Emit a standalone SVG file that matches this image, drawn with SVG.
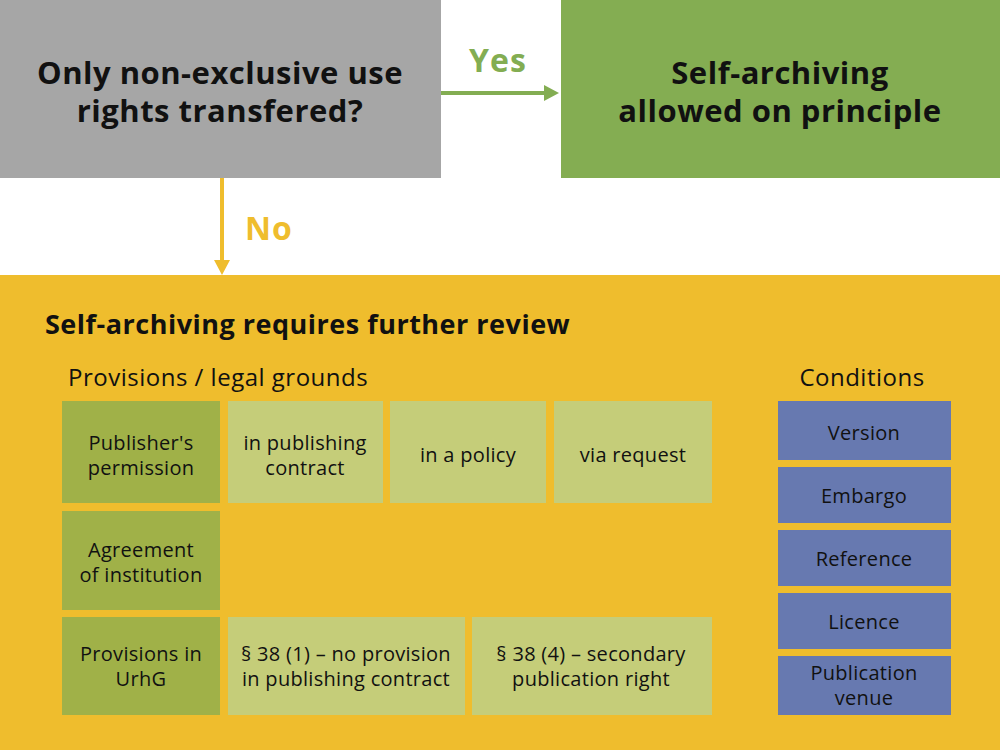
<svg xmlns="http://www.w3.org/2000/svg" width="1000" height="750" viewBox="0 0 1000 750">
<defs>
<style>
text{font-family:"Open Sans","Liberation Sans",sans-serif;fill:#111;}
.h{font-size:31px;font-weight:700;text-anchor:middle;letter-spacing:0.5px;}
.lbl{font-size:20px;text-anchor:middle;letter-spacing:0.3px;}
.dark{fill:#a0b148;}
.light{fill:#c5cd79;}
.cond{fill:#6779b0;}
</style>
</defs>
<rect width="1000" height="750" fill="#fff"/>
<g id="question">
<rect x="0" y="0" width="441" height="178" fill="#a6a6a6"/>
<text class="h" x="220" y="84">Only non-exclusive use</text>
<text class="h" x="220" y="122">rights transfered?</text>
</g>
<g id="allowed">
<rect x="561" y="0" width="439" height="178" fill="#84ad52"/>
<text class="h" x="780" y="84">Self-archiving</text>
<text class="h" x="780" y="122">allowed on principle</text>
</g>
<g id="review">
<rect x="0" y="275" width="1000" height="475" fill="#efbd2d"/>
<text x="45" y="334" style="font-size:27px;font-weight:700;letter-spacing:0.5px">Self-archiving requires further review</text>
<text x="68" y="386" style="font-size:24px;letter-spacing:0.5px">Provisions / legal grounds</text>
<text x="862" y="386" style="font-size:24px;letter-spacing:0.5px;text-anchor:middle">Conditions</text>
</g>
<g id="publisher-permission"><rect class="dark" x="62" y="401" width="158" height="102"/><text class="lbl" x="141" y="450">Publisher's</text><text class="lbl" x="141" y="475">permission</text></g>
<g id="in-contract"><rect class="light" x="228" y="401" width="155" height="102"/><text class="lbl" x="305" y="450">in publishing</text><text class="lbl" x="305" y="475">contract</text></g>
<g id="in-policy"><rect class="light" x="390" y="401" width="156" height="102"/><text class="lbl" x="468" y="462">in a policy</text></g>
<g id="via-request"><rect class="light" x="554" y="401" width="158" height="102"/><text class="lbl" x="633" y="462">via request</text></g>
<g id="agreement"><rect class="dark" x="62" y="511" width="158" height="99"/><text class="lbl" x="141" y="557">Agreement</text><text class="lbl" x="141" y="582">of institution</text></g>
<g id="urhg"><rect class="dark" x="62" y="617" width="158" height="98"/><text class="lbl" x="141" y="661">Provisions in</text><text class="lbl" x="141" y="686">UrhG</text></g>
<g id="s38-1"><rect class="light" x="228" y="617" width="237" height="98"/><text class="lbl" x="346" y="661">§ 38 (1) – no provision</text><text class="lbl" x="346" y="686">in publishing contract</text></g>
<g id="s38-4"><rect class="light" x="472" y="617" width="240" height="98"/><text class="lbl" x="591" y="661">§ 38 (4) – secondary</text><text class="lbl" x="591" y="686">publication right</text></g>
<g id="version"><rect class="cond" x="778" y="401" width="173" height="59"/><text class="lbl" x="864" y="440">Version</text></g>
<g id="embargo"><rect class="cond" x="778" y="467" width="173" height="56"/><text class="lbl" x="864" y="503">Embargo</text></g>
<g id="reference"><rect class="cond" x="778" y="530" width="173" height="56"/><text class="lbl" x="864" y="566">Reference</text></g>
<g id="licence"><rect class="cond" x="778" y="593" width="173" height="56"/><text class="lbl" x="864" y="629">Licence</text></g>
<g id="venue"><rect class="cond" x="778" y="656" width="173" height="59"/><text class="lbl" x="864" y="680">Publication</text><text class="lbl" x="864" y="705">venue</text></g>
<g id="connectors">
<line x1="441" y1="93" x2="546" y2="93" stroke="#83ad52" stroke-width="4"/>
<polygon points="544,85 559,93 544,101" fill="#83ad52"/>
<text x="498" y="72" style="font-size:32px;font-weight:700;letter-spacing:1px;fill:#83ad52;text-anchor:middle">Yes</text>
<line x1="222" y1="178" x2="222" y2="262" stroke="#efbd2d" stroke-width="4"/>
<polygon points="214,260 222,275 230,260" fill="#efbd2d"/>
<text x="269" y="240" style="font-size:32px;font-weight:700;letter-spacing:1px;fill:#efbd2d;text-anchor:middle">No</text>
</g>
</svg>
